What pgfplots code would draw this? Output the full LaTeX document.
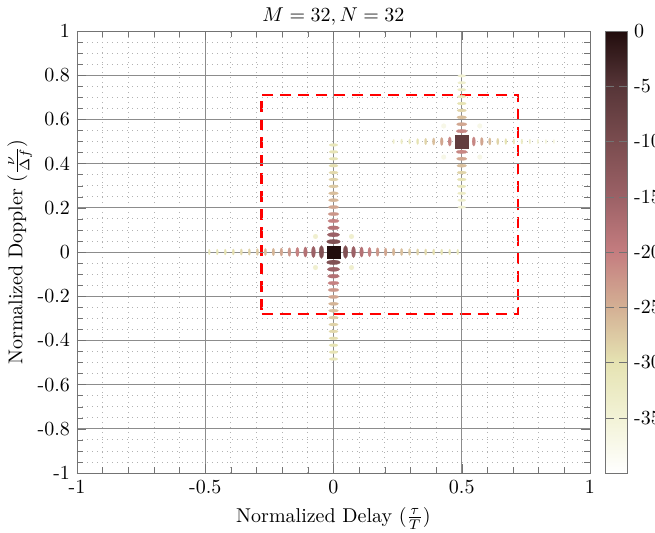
\documentclass[border=0pt]{standalone}
\usepackage{pgfplots}
\pgfplotsset{compat=1.18}
\begin{document}
\begin{tikzpicture}
\begin{axis}[
  name=ax,
  at={(0,0)}, anchor=south west,
  scale only axis,
  width=256.5pt, height=221pt,
  xmin=-1, xmax=1, ymin=-1, ymax=1,
  xtick={-1,-0.5,0,0.5,1},
  xticklabels={-1,-0.5,0,0.5,1},
  ytick={-1,-0.8,-0.6,-0.4,-0.2,0,0.2,0.4,0.6,0.8,1},
  yticklabels={-1,-0.8,-0.6,-0.4,-0.2,0,0.2,0.4,0.6,0.8,1},
  minor x tick num=4, minor y tick num=3,
  grid=both,
  major grid style={black!45, line width=0.4pt},
  minor grid style={black!30, line width=0.4pt, dash pattern=on 0.5pt off 2pt},
  axis line style={black!55},
  tick style={black!55},
  axis on top,
  title={$M=32, N=32$},
  title style={yshift=-6.5pt},
  ylabel style={yshift=-4pt},
  xlabel={Normalized Delay ($\frac{\tau}{T}$)},
  ylabel={Normalized Doppler ($\frac{\nu}{\Delta f}$)},
  colormap={ambig}{rgb=(1,1,1) rgb=(0.95,0.95,0.84) rgb=(0.90,0.89,0.70) rgb=(0.83,0.69,0.58) rgb=(0.77,0.49,0.50) rgb=(0.61,0.38,0.40) rgb=(0.48,0.30,0.31) rgb=(0.34,0.21,0.22) rgb=(0.13,0.05,0.05)},
  point meta min=-40, point meta max=0,
  colorbar,
  colorbar style={
    at={(parent axis.north east)}, anchor=north west, xshift=-1pt,
    width=11pt,
    ytick={-35,-30,-25,-20,-15,-10,-5,0},
    yticklabels={-35,-30,-25,-20,-15,-10,-5,0},
    axis line style={black!55}, tick style={black!55},
  },
]
% red dashed region
\addplot[red, line width=1.25pt, dash pattern=on 5.5pt off 3.5pt]
  coordinates {(-0.28,-0.28) (0.72,-0.28) (0.72,0.71) (-0.28,0.71) (-0.28,-0.28)};

% horizontal sidelobes (delay axis) of both peaks
\addplot[scatter, only marks, mark=*, point meta=explicit,
  scatter/use mapped color={draw=mapped color, fill=mapped color},
  visualization depends on={\thisrow{c} \as \cval},
  scatter/@pre marker code/.append style={/tikz/mark size={max(0.8,4.2+0.09*(\cval))}},
  mark options={xscale=0.36, line width=0.1pt}]
  table[x=x, y=y, meta=c] {
x y c
-0.484375 0 -31.0
-0.453125 0 -30.5
-0.421875 0 -30.0
-0.390625 0 -29.5
-0.359375 0 -29.0
-0.328125 0 -28.3
-0.296875 0 -27.5
-0.265625 0 -26.5
-0.234375 0 -25.5
-0.203125 0 -24.0
-0.171875 0 -22.5
-0.140625 0 -20.5
-0.109375 0 -18.0
-0.078125 0 -15.0
-0.046875 0 -11.0
0.046875 0 -11.0
0.078125 0 -15.0
0.109375 0 -18.0
0.140625 0 -20.5
0.171875 0 -22.5
0.203125 0 -24.0
0.234375 0 -25.5
0.265625 0 -26.5
0.296875 0 -27.5
0.328125 0 -28.3
0.359375 0 -29.0
0.390625 0 -29.5
0.421875 0 -30.0
0.453125 0 -30.5
0.484375 0 -31.0
0.234375 0.5 -33.5
0.265625 0.5 -32.5
0.296875 0.5 -31.5
0.328125 0.5 -30.0
0.359375 0.5 -28.5
0.390625 0.5 -26.5
0.421875 0.5 -24.0
0.453125 0.5 -21.0
0.484375 0.5 -17.0
0.515625 0.5 -17.0
0.546875 0.5 -21.0
0.578125 0.5 -24.0
0.609375 0.5 -26.5
0.640625 0.5 -28.5
0.671875 0.5 -30.0
0.703125 0.5 -31.5
0.734375 0.5 -32.5
0.765625 0.5 -33.5
0.796875 0.5 -34.3
0.828125 0.5 -35.0
0.859375 0.5 -35.5
};

% vertical sidelobes (Doppler axis) of both peaks
\addplot[scatter, only marks, mark=*, point meta=explicit,
  scatter/use mapped color={draw=mapped color, fill=mapped color},
  visualization depends on={\thisrow{c} \as \cval},
  scatter/@pre marker code/.append style={/tikz/mark size={max(1.2,4.05+0.06*(\cval))}},
  mark options={yscale=0.33, line width=0.1pt}]
  table[x=x, y=y, meta=c] {
x y c
0 -0.484375 -31.0
0 -0.453125 -30.5
0 -0.421875 -30.0
0 -0.390625 -29.5
0 -0.359375 -29.0
0 -0.328125 -28.3
0 -0.296875 -27.5
0 -0.265625 -26.5
0 -0.234375 -25.5
0 -0.203125 -24.0
0 -0.171875 -22.5
0 -0.140625 -20.5
0 -0.109375 -18.0
0 -0.078125 -15.0
0 -0.046875 -11.0
0 0.046875 -11.0
0 0.078125 -15.0
0 0.109375 -18.0
0 0.140625 -20.5
0 0.171875 -22.5
0 0.203125 -24.0
0 0.234375 -25.5
0 0.265625 -26.5
0 0.296875 -27.5
0 0.328125 -28.3
0 0.359375 -29.0
0 0.390625 -29.5
0 0.421875 -30.0
0 0.453125 -30.5
0 0.484375 -31.0
0.5 0.203125 -34.3
0.5 0.234375 -33.5
0.5 0.265625 -32.5
0.5 0.296875 -31.5
0.5 0.328125 -30.0
0.5 0.359375 -28.5
0.5 0.390625 -26.5
0.5 0.421875 -24.0
0.5 0.453125 -21.0
0.5 0.484375 -17.0
0.5 0.515625 -17.0
0.5 0.546875 -21.0
0.5 0.578125 -24.0
0.5 0.609375 -26.5
0.5 0.640625 -28.5
0.5 0.671875 -30.0
0.5 0.703125 -31.5
0.5 0.734375 -32.5
0.5 0.765625 -33.5
0.5 0.796875 -34.3
};

% faint off-axis lobes around the peaks
\addplot[scatter, only marks, mark=*, mark size=1.2pt, point meta=explicit,
  scatter/use mapped color={draw=mapped color, fill=mapped color},
  mark options={line width=0.1pt}]
  table[x=x, y=y, meta=c] {
x y c
-0.0703 -0.0703 -34
-0.0703 0.0703 -34
0.0703 -0.0703 -34
0.0703 0.0703 -34
0.4297 0.4297 -37
0.4297 0.5703 -37
0.5703 0.4297 -37
0.5703 0.5703 -37
};

% the two peaks
\addplot[scatter, only marks, mark=square*, mark size=3.2pt, point meta=explicit,
  scatter/use mapped color={draw=mapped color, fill=mapped color},
  mark options={line width=0.1pt, rounded corners=1pt}]
  table[x=x, y=y, meta=c] {
x y c
0.5 0.5 -6.5
0 0 0
};
\end{axis}
\pgfresetboundingbox
\path[use as bounding box] (-38.5pt,-29.5pt) rectangle (289pt,236.5pt);
\end{tikzpicture}
\end{document}
